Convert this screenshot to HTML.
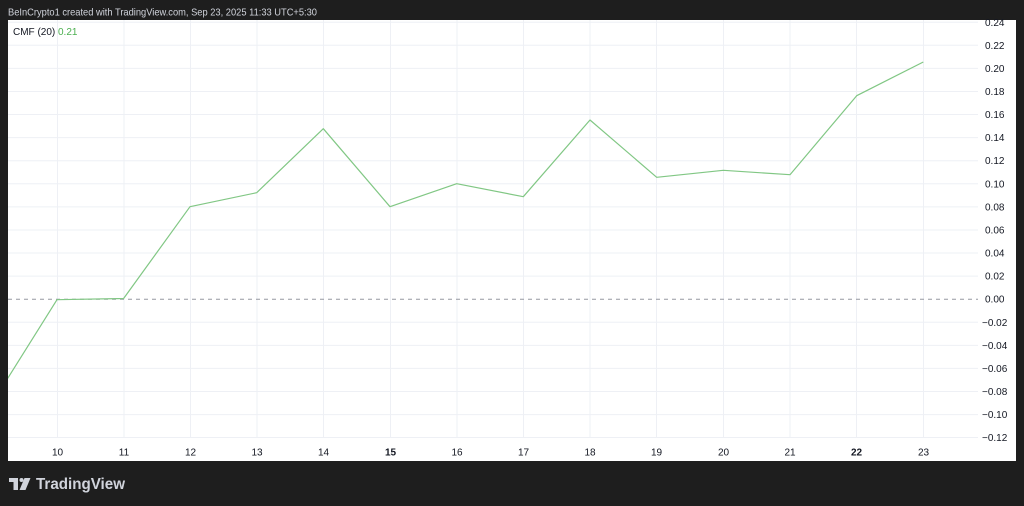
<!DOCTYPE html>
<html>
<head>
<meta charset="utf-8">
<style>
  html,body{margin:0;padding:0;background:#1e1e1e;}
  body{width:1024px;height:506px;overflow:hidden;}
  svg{display:block;}
  text{font-family:"Liberation Sans",Arial,sans-serif;}
</style>
</head>
<body>
<svg width="1024" height="506" viewBox="0 0 1024 506" xmlns="http://www.w3.org/2000/svg">
  <rect x="0" y="0" width="1024" height="506" fill="#1e1e1e"/>
  <!-- header -->
  <text x="8" y="15.5" font-size="10.5" fill="#d1d4dc" textLength="309" lengthAdjust="spacingAndGlyphs">BeInCrypto1 created with TradingView.com, Sep 23, 2025 11:33 UTC+5:30</text>

  <!-- panel -->
  <rect x="8" y="20" width="1008" height="441" fill="#ffffff"/>

  <clipPath id="plot"><rect x="8" y="20" width="970" height="418"/></clipPath>

  <g clip-path="url(#plot)">
    <!-- horizontal grid -->
    <g stroke="#eef0f5" stroke-width="1">
      <line x1="8" x2="978" y1="22.2" y2="22.2"/>
      <line x1="8" x2="978" y1="45.3" y2="45.3"/>
      <line x1="8" x2="978" y1="68.4" y2="68.4"/>
      <line x1="8" x2="978" y1="91.5" y2="91.5"/>
      <line x1="8" x2="978" y1="114.5" y2="114.5"/>
      <line x1="8" x2="978" y1="137.6" y2="137.6"/>
      <line x1="8" x2="978" y1="160.7" y2="160.7"/>
      <line x1="8" x2="978" y1="183.8" y2="183.8"/>
      <line x1="8" x2="978" y1="206.9" y2="206.9"/>
      <line x1="8" x2="978" y1="230.0" y2="230.0"/>
      <line x1="8" x2="978" y1="253.0" y2="253.0"/>
      <line x1="8" x2="978" y1="276.1" y2="276.1"/>
      <line x1="8" x2="978" y1="322.3" y2="322.3"/>
      <line x1="8" x2="978" y1="345.4" y2="345.4"/>
      <line x1="8" x2="978" y1="368.4" y2="368.4"/>
      <line x1="8" x2="978" y1="391.5" y2="391.5"/>
      <line x1="8" x2="978" y1="414.6" y2="414.6"/>
      <line x1="8" x2="978" y1="437.5" y2="437.5"/>
    </g>
    <!-- vertical grid -->
    <g stroke="#eef0f5" stroke-width="1">
      <line x1="57.5" x2="57.5" y1="20" y2="438"/>
      <line x1="124" x2="124" y1="20" y2="438"/>
      <line x1="190.5" x2="190.5" y1="20" y2="438"/>
      <line x1="257" x2="257" y1="20" y2="438"/>
      <line x1="323.5" x2="323.5" y1="20" y2="438"/>
      <line x1="390.5" x2="390.5" y1="20" y2="438"/>
      <line x1="457" x2="457" y1="20" y2="438"/>
      <line x1="523.5" x2="523.5" y1="20" y2="438"/>
      <line x1="590" x2="590" y1="20" y2="438"/>
      <line x1="656.5" x2="656.5" y1="20" y2="438"/>
      <line x1="723.5" x2="723.5" y1="20" y2="438"/>
      <line x1="790" x2="790" y1="20" y2="438"/>
      <line x1="856.5" x2="856.5" y1="20" y2="438"/>
      <line x1="923.5" x2="923.5" y1="20" y2="438"/>
    </g>
    <!-- zero dashed line -->
    <line x1="8" x2="978" y1="299.2" y2="299.2" stroke="#9598a1" stroke-width="1" stroke-dasharray="4,4"/>
    <!-- CMF line -->
    <polyline fill="none" stroke="#81c784" stroke-width="1.2" stroke-linejoin="round"
      points="-9.6,406 57,299.7 123.6,298.5 190,206.7 256.7,192.7 323.3,128.7 390,206.7 456.7,183.7 523.3,196.7 590,120 656.7,177.3 723.3,170.3 790,174.7 856.7,95.7 923.3,62"/>
  </g>

  <!-- legend -->
  <text x="13" y="35" font-size="10" fill="#131722">CMF (20)</text>
  <text x="58" y="35" font-size="10" fill="#4caf50">0.21</text>

  <!-- y-axis labels -->
  <g font-size="10" fill="#131722">
    <text x="985" y="26">0.24</text>
    <text x="985" y="49">0.22</text>
    <text x="985" y="72">0.20</text>
    <text x="985" y="95">0.18</text>
    <text x="985" y="118">0.16</text>
    <text x="985" y="141">0.14</text>
    <text x="985" y="164">0.12</text>
    <text x="985" y="187.5">0.10</text>
    <text x="985" y="210.5">0.08</text>
    <text x="985" y="233.5">0.06</text>
    <text x="985" y="256.5">0.04</text>
    <text x="985" y="279.5">0.02</text>
    <text x="985" y="302.5">0.00</text>
    <text x="982" y="326">−0.02</text>
    <text x="982" y="349">−0.04</text>
    <text x="982" y="372">−0.06</text>
    <text x="982" y="395">−0.08</text>
    <text x="982" y="418">−0.10</text>
    <text x="982" y="441">−0.12</text>
  </g>

  <!-- x-axis labels -->
  <g font-size="10" fill="#131722" text-anchor="middle">
    <text x="57.5" y="455.5">10</text>
    <text x="124" y="455.5">11</text>
    <text x="190.5" y="455.5">12</text>
    <text x="257" y="455.5">13</text>
    <text x="323.5" y="455.5">14</text>
    <text x="390.5" y="455.5" font-weight="bold">15</text>
    <text x="457" y="455.5">16</text>
    <text x="523.5" y="455.5">17</text>
    <text x="590" y="455.5">18</text>
    <text x="656.5" y="455.5">19</text>
    <text x="723.5" y="455.5">20</text>
    <text x="790" y="455.5">21</text>
    <text x="856.5" y="455.5" font-weight="bold">22</text>
    <text x="923.5" y="455.5">23</text>
  </g>

  <!-- TradingView logo -->
  <g fill="#d1d4dc">
    <rect x="9" y="478" width="9" height="4"/>
    <rect x="13.5" y="478" width="4.5" height="12"/>
    <circle cx="21.5" cy="480" r="2"/>
    <polygon points="24.5,478 30.5,478 25.5,490 19.5,490"/>
  </g>
  <text x="36" y="489" font-size="15.5" font-weight="bold" fill="#d1d4dc" textLength="89" lengthAdjust="spacingAndGlyphs">TradingView</text>
</svg>
</body>
</html>
